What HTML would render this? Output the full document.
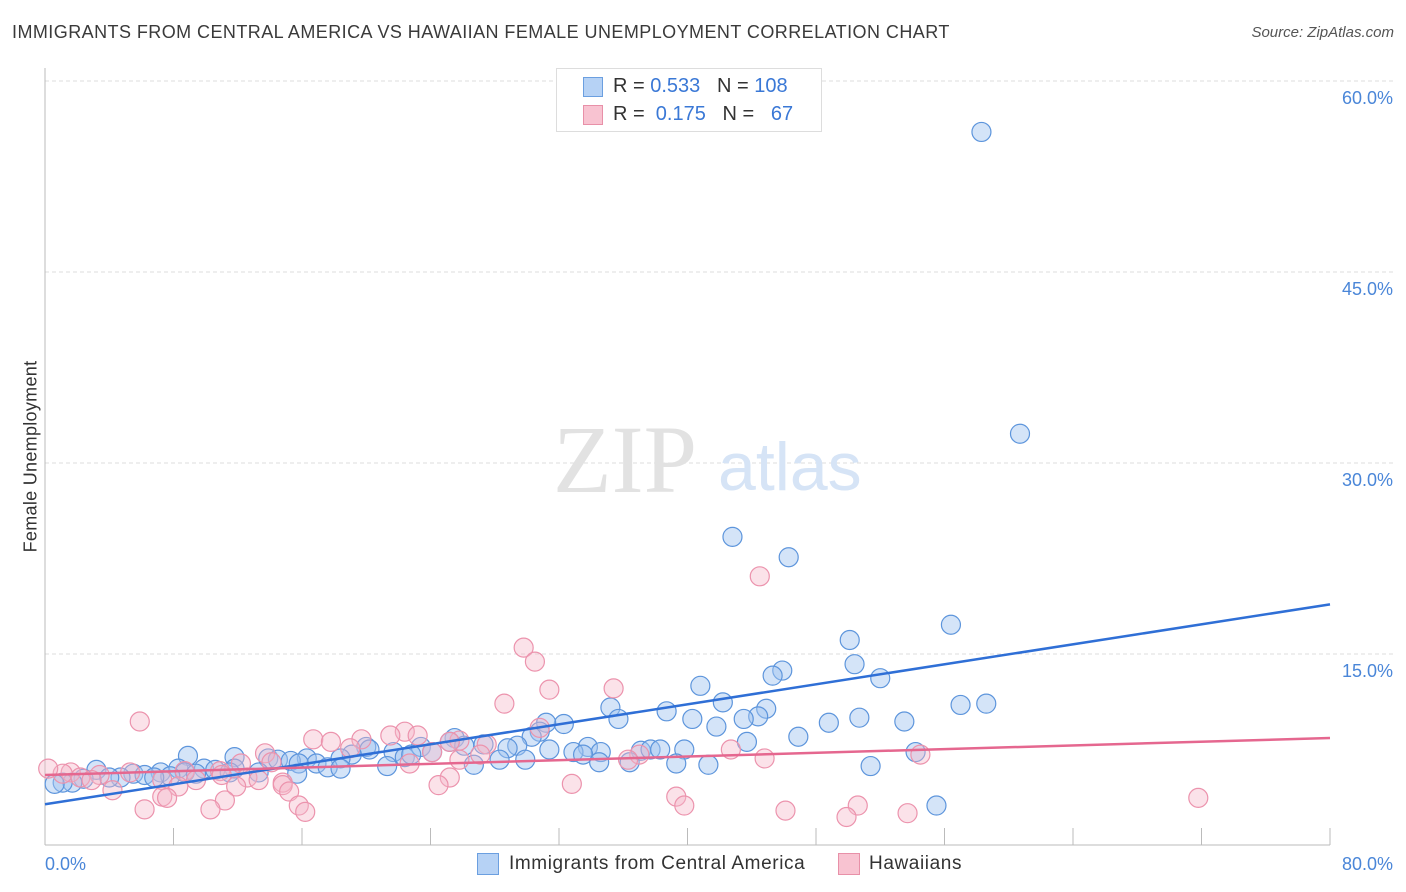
<!DOCTYPE html>
<html><head><meta charset="utf-8"><style>
body{margin:0;background:#fff;font-family:"Liberation Sans",sans-serif;}
#c{position:relative;width:1406px;height:892px;overflow:hidden;}
.t{position:absolute;white-space:nowrap;}
</style></head><body>
<div id="c">
<div class="t" style="left:12px;top:22px;font-size:18px;color:#3a3a3a;letter-spacing:0.44px;">IMMIGRANTS FROM CENTRAL AMERICA VS HAWAIIAN FEMALE UNEMPLOYMENT CORRELATION CHART</div>
<div class="t" style="right:12px;top:24px;font-size:15px;color:#555;font-style:italic;">Source: ZipAtlas.com</div>
<div class="t" style="left:-65px;top:446px;font-size:18px;color:#333;transform:rotate(-90deg);letter-spacing:0.3px;">Female Unemployment</div>
<svg id="s" width="1406" height="892" style="position:absolute;left:0;top:0"></svg>
<div style="position:absolute;left:556px;top:68px;width:264px;height:62px;border:1px solid #ddd;background:#fff;font-size:20px;">
 <div style="position:absolute;left:26px;top:8px;width:18px;height:18px;background:#b6d2f5;border:1px solid #6b9fe0"></div>
 <div class="t" style="left:56px;top:6px;color:#333">R = <span style="color:#3a78d6">0.533</span>&nbsp;&nbsp;&nbsp;N = <span style="color:#3a78d6">108</span></div>
 <div style="position:absolute;left:26px;top:36px;width:18px;height:18px;background:#f8c3d1;border:1px solid #e890a8"></div>
 <div class="t" style="left:56px;top:34px;color:#333">R = &nbsp;<span style="color:#3a78d6">0.175</span>&nbsp;&nbsp;&nbsp;N = &nbsp;&nbsp;<span style="color:#3a78d6">67</span></div>
</div>
<div style="position:absolute;left:477px;top:853px;width:20px;height:20px;background:#b6d2f5;border:1px solid #6b9fe0"></div>
<div class="t" style="left:509px;top:853px;font-size:19px;color:#333;letter-spacing:0.6px">Immigrants from Central America</div>
<div style="position:absolute;left:838px;top:853px;width:20px;height:20px;background:#f8c3d1;border:1px solid #e890a8"></div>
<div class="t" style="left:869px;top:853px;font-size:19px;color:#333;letter-spacing:0.6px">Hawaiians</div>
</div>
<script>
const yTicks=[15,30,45,60];
const yTickLabels=["15.0%","30.0%","45.0%","60.0%"];
const xTickLabels=["0.0%","80.0%"];
const blueX=[58.3,60.7,42.8,46.3,56.4,50.1,50.4,45.9,45.3,52.0,40.8,42.2,57.0,58.6,35.2,44.9,38.7,44.4,35.7,40.3,43.5,50.7,53.5,48.8,41.8,32.3,31.2,30.8,46.9,43.7,30.3,25.5,25.2,29.4,28.8,27.3,26.1,23.4,24.1,20.0,20.2,31.4,33.8,37.1,37.7,38.3,39.8,54.2,32.9,34.6,33.5,21.7,19.1,22.4,22.8,18.4,16.3,13.9,8.9,11.8,14.5,15.3,16.9,17.6,15.8,21.3,26.7,28.3,29.9,34.5,36.4,39.3,41.3,51.4,18.4,15.7,3.2,7.2,8.3,9.9,10.6,11.8,13.3,8.7,9.4,11.5,5.5,6.2,4.7,4.0,7.8,6.8,2.4,1.7,1.1,0.6,55.5];
const blueY=[56.0,32.3,24.2,22.6,17.3,16.1,14.2,13.7,13.3,13.1,12.5,11.2,11.0,11.1,10.8,10.7,10.5,10.1,9.9,9.9,9.9,10.0,9.7,9.6,9.3,9.5,9.6,8.9,8.5,8.1,8.5,8.4,8.1,7.8,7.6,7.9,7.8,7.7,7.3,7.7,7.5,7.5,7.7,7.4,7.5,7.5,7.5,7.3,7.3,7.3,7.1,7.3,7.1,6.9,7.1,6.8,6.8,6.8,7.0,6.9,6.7,6.6,6.4,6.1,6.4,6.2,6.3,6.7,6.7,6.5,6.5,6.4,6.3,6.2,6.0,5.6,5.9,5.7,6.0,6.0,5.9,6.0,5.7,5.7,5.6,5.7,5.6,5.5,5.3,5.3,5.4,5.3,5.2,4.9,4.9,4.8,3.1];
const pinkX=[44.5,29.8,30.5,35.4,31.4,28.6,5.9,16.7,17.8,19.7,22.4,23.2,21.5,19.0,13.7,25.8,27.5,30.8,25.2,24.1,37.0,42.7,54.5,44.8,22.7,25.8,27.1,36.3,14.1,12.2,10.9,8.7,5.3,3.4,1.6,1.1,0.2,2.2,2.9,7.3,8.3,9.4,11.0,12.6,13.3,14.8,4.2,11.9,14.8,15.2,25.2,24.5,32.8,7.3,7.6,11.2,6.2,10.3,15.8,16.2,39.3,39.8,46.1,50.6,49.9,53.7,71.8];
const pinkY=[21.1,15.5,14.4,12.3,12.2,11.1,9.7,8.3,8.1,8.3,8.9,8.6,8.6,7.6,7.2,8.2,7.9,9.2,8.1,7.3,7.1,7.5,7.1,6.8,6.4,6.7,7.1,6.7,6.5,6.4,5.8,5.8,5.7,5.5,5.7,5.6,6.0,5.3,5.1,5.1,4.6,5.1,5.5,5.3,5.1,4.9,4.3,4.6,4.7,4.2,5.3,4.7,4.8,3.8,3.7,3.5,2.8,2.8,3.1,2.6,3.8,3.1,2.7,3.1,2.2,2.5,3.7];
const blueTrend=[3.2,18.9];
const pinkTrend=[5.5,8.4];
const X0=45,X1=1330,Y0=845,PX15=191;
const xs=v=>X0+(v/80)*(X1-X0);
const ys=v=>Y0-v/15*PX15;
const s=document.getElementById('s');const NS='http://www.w3.org/2000/svg';
function mk(t,a){const e=document.createElementNS(NS,t);for(const k in a)e.setAttribute(k,a[k]);s.appendChild(e);return e;}
yTicks.forEach((v,i)=>{
 const g=mk('line',{x1:X0,x2:1394,y1:ys(v),y2:ys(v),stroke:'#ddd','stroke-dasharray':'4,3'});
 
 
 const t=mk('text',{x:1393,y:ys(v)+23,'text-anchor':'end','font-size':18,fill:'#4a86d8','font-family':'Liberation Sans'});
 t.textContent=yTickLabels[i];
 
 
});
mk('line',{x1:X0,x2:X0,y1:68,y2:Y0,stroke:'#bbb'});
mk('line',{x1:X0,x2:X1,y1:Y0,y2:Y0,stroke:'#bbb'});
for(let i=1;i<=10;i++){const x=xs(i*8);mk('line',{x1:x,x2:x,y1:828,y2:Y0,stroke:'#bbb'});}
[[0,'start',45],[80,'end',1393]].forEach((d,i)=>{
 const t=mk('text',{x:d[2],y:870,'text-anchor':d[1],'font-size':18,fill:'#4a86d8','font-family':'Liberation Sans'});
 t.textContent=xTickLabels[i];
 
 
});
const w1=mk('text',{x:553,y:492,'font-size':96,fill:'#e2e2e2','font-family':'Liberation Serif'});w1.textContent='ZIP';


const w2=mk('text',{x:718,y:490,'font-size':68,fill:'#d6e4f6','font-family':'Liberation Sans'});w2.textContent='atlas';
blueX.forEach((v,i)=>{const c=mk('circle',{cx:xs(v),cy:ys(blueY[i]),r:9.5,fill:'rgba(160,196,240,0.45)',stroke:'#5d95dc','stroke-width':1.2});
 
 });
pinkX.forEach((v,i)=>{const c=mk('circle',{cx:xs(v),cy:ys(pinkY[i]),r:9.5,fill:'rgba(246,182,200,0.4)',stroke:'#ec93ad','stroke-width':1.2});
 
 });
const l1=mk('line',{x1:xs(0),y1:ys(blueTrend[0]),x2:xs(80),y2:ys(blueTrend[1]),stroke:'#2f6fd6','stroke-width':2.5});


const l2=mk('line',{x1:xs(0),y1:ys(pinkTrend[0]),x2:xs(80),y2:ys(pinkTrend[1]),stroke:'#e5678f','stroke-width':2.5});


</script>
</body></html>
